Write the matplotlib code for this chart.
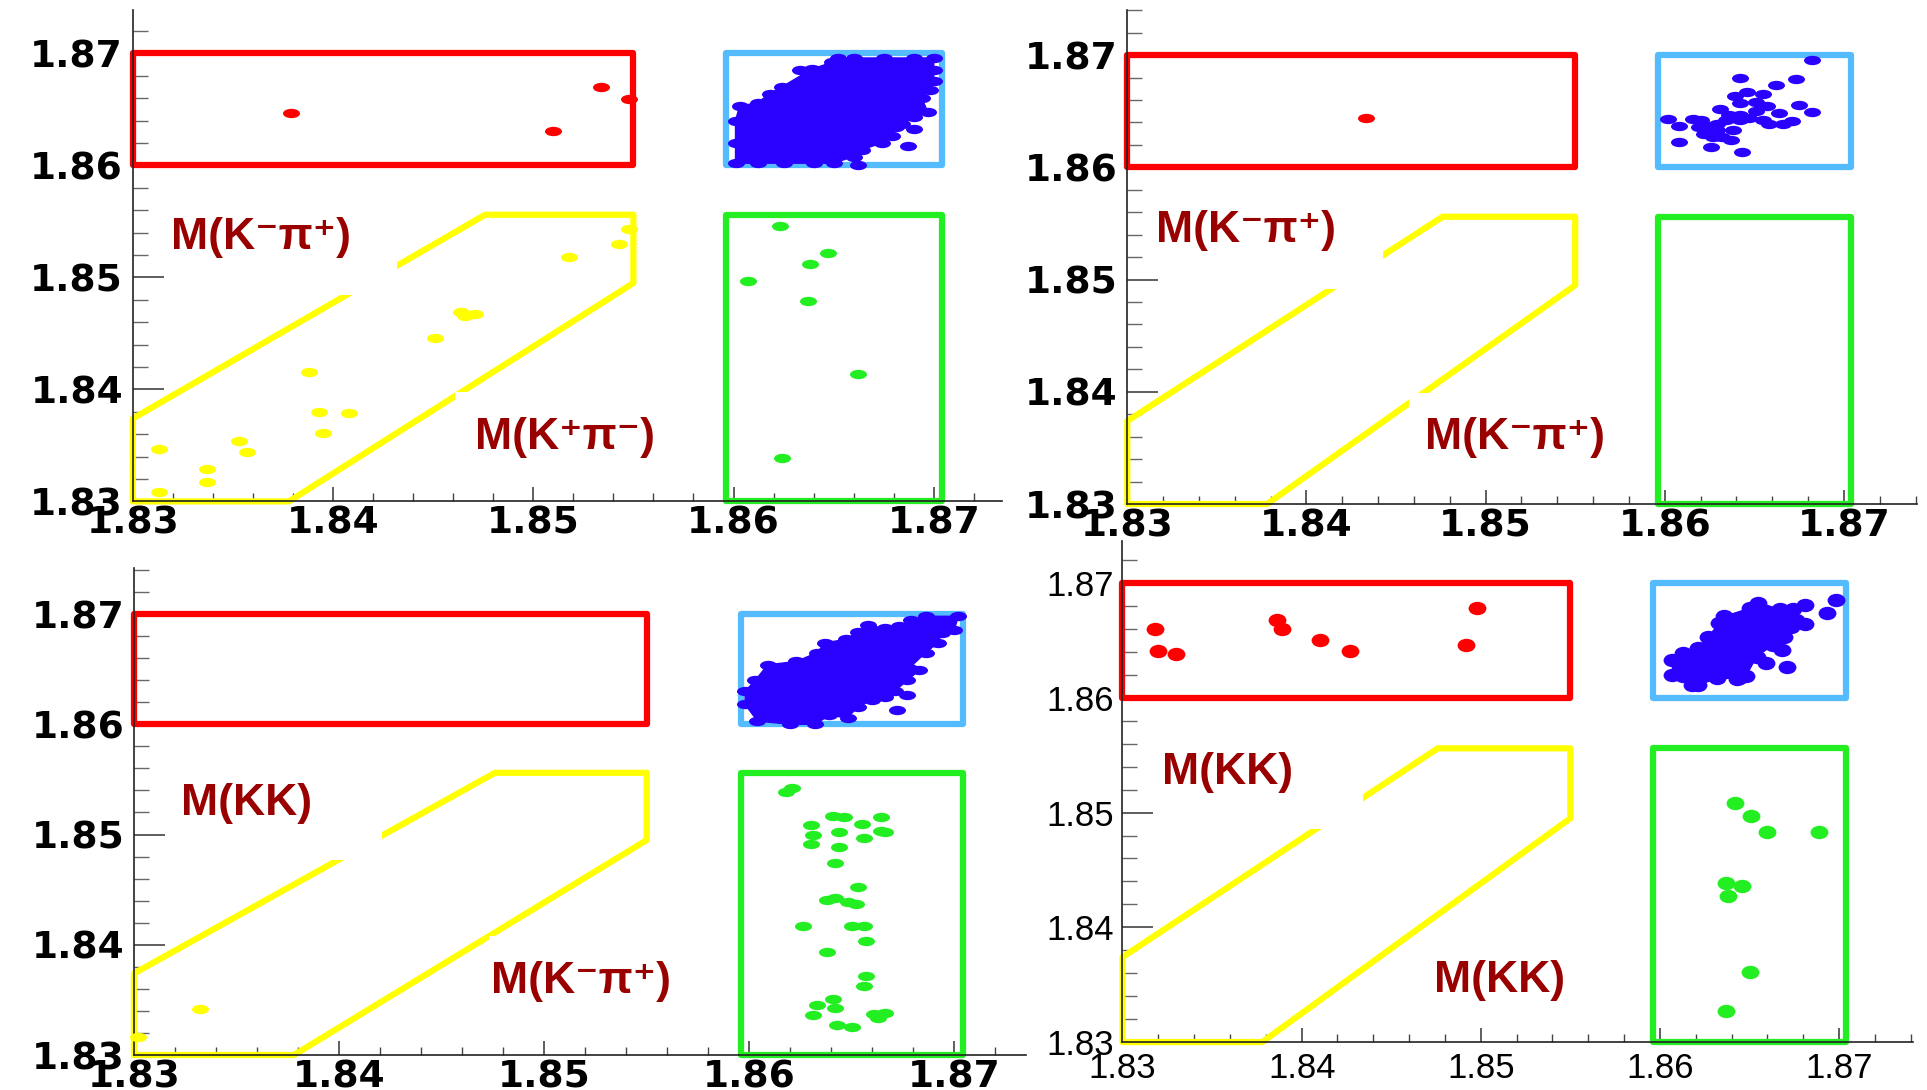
import numpy as np
import matplotlib.pyplot as plt
from matplotlib import font_manager
from matplotlib.patches import Polygon, Rectangle
from matplotlib.path import Path
from matplotlib.ticker import MultipleLocator, FormatStrFormatter

names = {f.name for f in font_manager.fontManager.ttflist}
narrow = 'Liberation Sans Narrow' if 'Liberation Sans Narrow' in names else 'Liberation Sans'

# signal / sideband regions (x0, y0, x1, y1)
red_box = [1.83, 1.86, 1.855, 1.87]
blue_box = [1.8596, 1.86, 1.8704, 1.87]
green_box = [1.8596, 1.83, 1.8704, 1.8556]
yellow_x = [1.83, 1.8378, 1.855, 1.855, 1.8476, 1.83]
yellow_y = [1.83, 1.83, 1.8495, 1.8556, 1.8556, 1.8374]

lab_kmpip = 'M(K\u207b\u03c0\u207a)'
lab_kppim = 'M(K\u207a\u03c0\u207b)'
lab_kk = 'M(KK)'

# top left
p1_red_x = [1.8379, 1.8534, 1.8510, 1.8548]
p1_red_y = [1.8647, 1.8670, 1.8631, 1.8659]
p1_yellow_x = [1.8313, 1.8313, 1.8337, 1.8337, 1.8353, 1.8357, 1.8388, 1.8393, 1.8408, 1.8395,
               1.8451, 1.8464, 1.8466, 1.8471, 1.8518, 1.8543, 1.8548]
p1_yellow_y = [1.8347, 1.8308, 1.8329, 1.8317, 1.8354, 1.8344, 1.8416, 1.8380, 1.8379, 1.8361,
               1.8446, 1.8469, 1.8466, 1.8467, 1.8518, 1.8530, 1.8543]
p1_green_x = [1.8623, 1.8647, 1.8638, 1.8607, 1.8637, 1.8662, 1.8624]
p1_green_y = [1.8546, 1.8522, 1.8512, 1.8497, 1.8479, 1.8414, 1.8339]
p1_blob_x = [1.8601, 1.8601, 1.8601, 1.8603, 1.8612, 1.8618, 1.8624, 1.8639, 1.8649, 1.8652,
             1.8660, 1.8675, 1.8690, 1.8700, 1.8700, 1.8700, 1.8698, 1.8694, 1.8697, 1.8690,
             1.8684, 1.8681, 1.8679, 1.8674, 1.8664, 1.8660, 1.8650, 1.8640, 1.8625, 1.8612]
p1_blob_y = [1.8602, 1.8620, 1.8640, 1.8653, 1.8656, 1.8664, 1.8670, 1.8686, 1.8692, 1.8696,
             1.8696, 1.8696, 1.8696, 1.8696, 1.8685, 1.8675, 1.8667, 1.8660, 1.8648, 1.8643,
             1.8637, 1.8634, 1.8626, 1.8620, 1.8614, 1.8608, 1.8602, 1.8602, 1.8602, 1.8602]
p1_blue_x = [1.8633, 1.8690, 1.8687, 1.8662]
p1_blue_y = [1.8685, 1.8633, 1.8617, 1.8600]

# top right
p2_red_x = [1.8433]
p2_red_y = [1.8644]
p2_blue_x = [1.8682, 1.8642, 1.8673, 1.8662, 1.8646, 1.8655, 1.8639, 1.8642, 1.8651, 1.8657,
             1.8675, 1.8682, 1.8631, 1.8651, 1.8664, 1.8602, 1.8616, 1.8620, 1.8608, 1.8625,
             1.8634, 1.8642, 1.8647, 1.8655, 1.8658, 1.8666, 1.8671, 1.8629, 1.8622, 1.8638,
             1.8627, 1.8632, 1.8637, 1.8608, 1.8626, 1.8643, 1.8642, 1.8636, 1.8619, 1.8629]
p2_blue_y = [1.8696, 1.8680, 1.8679, 1.8673, 1.8667, 1.8665, 1.8664, 1.8657, 1.8658, 1.8655,
             1.8656, 1.8649, 1.8652, 1.8650, 1.8648, 1.8643, 1.8643, 1.8642, 1.8637, 1.8637,
             1.8642, 1.8642, 1.8644, 1.8642, 1.8639, 1.8639, 1.8641, 1.8633, 1.8630, 1.8633,
             1.8627, 1.8627, 1.8624, 1.8623, 1.8618, 1.8614, 1.8647, 1.8647, 1.8636, 1.8639]

# bottom left
p3_yellow_x = [1.8332, 1.8302]
p3_yellow_y = [1.8342, 1.8316]
p3_green_x = [1.8621, 1.8618, 1.8641, 1.8646, 1.8664, 1.8630, 1.8655, 1.8631, 1.8644, 1.8664,
              1.8666, 1.8656, 1.8630, 1.8644, 1.8642, 1.8653, 1.8638, 1.8642, 1.8648, 1.8652,
              1.8626, 1.8650, 1.8656, 1.8657, 1.8638, 1.8657, 1.8656, 1.8641, 1.8633, 1.8642,
              1.8631, 1.8661, 1.8666, 1.8663, 1.8643, 1.8650]
p3_green_y = [1.8542, 1.8539, 1.8517, 1.8516, 1.8516, 1.8509, 1.8510, 1.8500, 1.8502, 1.8503,
              1.8502, 1.8497, 1.8491, 1.8489, 1.8474, 1.8452, 1.8441, 1.8442, 1.8439, 1.8437,
              1.8417, 1.8417, 1.8417, 1.8403, 1.8393, 1.8372, 1.8363, 1.8351, 1.8345, 1.8343,
              1.8336, 1.8337, 1.8338, 1.8334, 1.8327, 1.8325]
p3_blob_x = [1.8603, 1.8609, 1.8623, 1.8633, 1.8637, 1.8647, 1.8653, 1.8658, 1.8666, 1.8673,
             1.8679, 1.8686, 1.8702, 1.8700, 1.8694, 1.8692, 1.8686, 1.8678, 1.8683, 1.8677,
             1.8671, 1.8666, 1.8660, 1.8653, 1.8648, 1.8639, 1.8632, 1.8620, 1.8604, 1.8598,
             1.8598]
p3_blob_y = [1.8640, 1.8654, 1.8657, 1.8665, 1.8674, 1.8677, 1.8684, 1.8690, 1.8687, 1.8689,
             1.8695, 1.8698, 1.8698, 1.8686, 1.8683, 1.8674, 1.8665, 1.8651, 1.8649, 1.8640,
             1.8630, 1.8625, 1.8622, 1.8616, 1.8606, 1.8608, 1.8600, 1.8600, 1.8603, 1.8618,
             1.8630]
p3_blue_x = [1.8672, 1.8677]
p3_blue_y = [1.8613, 1.8627]

# bottom right
p4_red_x = [1.8318, 1.8320, 1.8330, 1.8386, 1.8389, 1.8410, 1.8427, 1.8492, 1.8498]
p4_red_y = [1.8660, 1.8641, 1.8638, 1.8668, 1.8660, 1.8650, 1.8641, 1.8646, 1.8678]
p4_green_x = [1.8642, 1.8651, 1.8660, 1.8689, 1.8637, 1.8646, 1.8638, 1.8650, 1.8637]
p4_green_y = [1.8508, 1.8497, 1.8483, 1.8483, 1.8439, 1.8436, 1.8427, 1.8361, 1.8327]
p4_blob_x = [1.8607, 1.8613, 1.8621, 1.8627, 1.8633, 1.8636, 1.8650, 1.8655, 1.8667, 1.8674,
             1.8676, 1.8673, 1.8669, 1.8663, 1.8654, 1.8648, 1.8644, 1.8632, 1.8621, 1.8613,
             1.8607]
p4_blob_y = [1.8633, 1.8639, 1.8643, 1.8653, 1.8665, 1.8671, 1.8678, 1.8683, 1.8677, 1.8677,
             1.8668, 1.8662, 1.8653, 1.8646, 1.8636, 1.8619, 1.8617, 1.8617, 1.8611, 1.8619,
             1.8620]
p4_blue_x = [1.8698, 1.8693, 1.8681, 1.8681, 1.8671, 1.8659, 1.8668, 1.8643, 1.8618]
p4_blue_y = [1.8685, 1.8674, 1.8681, 1.8664, 1.8627, 1.8630, 1.8642, 1.8616, 1.8611]

RED = '#ff0000'
SKY = '#55bbff'
YEL = '#ffff00'
GRN = '#22ee22'
BLU = '#2a00ff'
TXT = '#990000'

circ = Path.unit_circle()
flat = Path(circ.vertices * [1.0, 0.55], circ.codes)
rounder = Path(circ.vertices * [1.0, 0.75], circ.codes)

fig = plt.figure(figsize=(19.27, 10.90), dpi=100)


def box(ax, b, color):
    ax.add_patch(Rectangle((b[0], b[1]), b[2] - b[0], b[3] - b[1], fill=False, ec=color, lw=4.5,
                           joinstyle='round', clip_on=False, zorder=2))


def draw_panel(rect, xmax, ymax, points, blob, labels, masks, bold=True, marker=flat, msize=150):
    ax = fig.add_axes(rect)
    ax.set_xlim(1.83, xmax)
    ax.set_ylim(1.83, ymax)
    ax.spines['top'].set_visible(False)
    ax.spines['right'].set_visible(False)
    for s in ['left', 'bottom']:
        ax.spines[s].set_linewidth(1.2)
        ax.spines[s].set_color('#222222')
    for axis in [ax.xaxis, ax.yaxis]:
        axis.set_major_locator(MultipleLocator(0.01))
        axis.set_minor_locator(MultipleLocator(0.002))
        axis.set_major_formatter(FormatStrFormatter('%.2f'))
    ax.tick_params(axis='x', which='major', direction='in', length=10, width=1.1, color='#333333',
                   pad=3 if bold else 7)
    ax.tick_params(axis='x', which='minor', direction='in', length=5.5, width=1.0, color='#444444')
    ax.tick_params(axis='y', which='major', direction='in', length=22, width=1.1, color='#333333',
                   pad=7 if bold else 6)
    ax.tick_params(axis='y', which='minor', direction='in', length=11, width=1.0, color='#666666')
    if bold:
        plt.setp(ax.get_xticklabels() + ax.get_yticklabels(), family='DejaVu Sans',
                 fontweight='bold', fontsize=27)
    else:
        plt.setp(ax.get_xticklabels() + ax.get_yticklabels(), family=[narrow, 'DejaVu Sans'],
                 fontweight='normal', fontsize=25)

    box(ax, red_box, RED)
    box(ax, blue_box, SKY)
    box(ax, green_box, GRN)
    ax.add_patch(Polygon(np.column_stack([yellow_x, yellow_y]), closed=True, fill=False, ec=YEL,
                         lw=4.5, joinstyle='round', clip_on=False, zorder=2))
    for m in masks:
        ax.add_patch(Rectangle((m[0], m[1]), m[2] - m[0], m[3] - m[1], fc='white', ec='none',
                               zorder=2.5))

    if blob is not None:
        ax.add_patch(Polygon(np.column_stack(blob), closed=True, fc=BLU, ec=BLU, lw=1,
                             clip_on=False, zorder=3))
        ax.scatter(blob[0], blob[1], s=msize, marker=marker, color=BLU, linewidths=0,
                   clip_on=False, zorder=3)
    for x, y, c in points:
        ax.scatter(x, y, s=msize, marker=marker, color=c, linewidths=0, clip_on=False, zorder=3)

    for txt, x, y in labels:
        ax.text(x, y, txt, ha='left', va='center', color=TXT, fontsize=32, fontweight='bold',
                family=[narrow, 'DejaVu Sans'], zorder=5)
    return ax


draw_panel([0.0689, 0.540, 0.451, 0.451], 1.8734, 1.8739,
           [(p1_red_x, p1_red_y, RED), (p1_yellow_x, p1_yellow_y, YEL),
            (p1_green_x, p1_green_y, GRN), (p1_blue_x, p1_blue_y, BLU)],
           (p1_blob_x, p1_blob_y),
           [(lab_kmpip, 1.8319, 1.8536), (lab_kppim, 1.8471, 1.8357)],
           [(1.838, 1.8484, 1.8432, 1.8525), (1.8461, 1.834, 1.853, 1.8398)])

draw_panel([0.585, 0.5376, 0.41, 0.453], 1.8741, 1.8740,
           [(p2_red_x, p2_red_y, RED), (p2_blue_x, p2_blue_y, BLU)],
           None,
           [(lab_kmpip, 1.8316, 1.8544), (lab_kmpip, 1.8466, 1.8359)],
           [(1.838, 1.8492, 1.8443, 1.853), (1.8457, 1.834, 1.853, 1.8399)])

draw_panel([0.0695, 0.0321, 0.463, 0.447], 1.8735, 1.8742,
           [(p3_yellow_x, p3_yellow_y, YEL), (p3_green_x, p3_green_y, GRN),
            (p3_blue_x, p3_blue_y, BLU)],
           (p3_blob_x, p3_blob_y),
           [(lab_kk, 1.8323, 1.8528), (lab_kmpip, 1.8474, 1.8367)],
           [(1.836, 1.8477, 1.8421, 1.8515), (1.8473, 1.834, 1.853, 1.8408)])

draw_panel([0.5825, 0.044, 0.41, 0.46], 1.8741, 1.8737,
           [(p4_red_x, p4_red_y, RED), (p4_green_x, p4_green_y, GRN),
            (p4_blue_x, p4_blue_y, BLU)],
           (p4_blob_x, p4_blob_y),
           [(lab_kk, 1.8322, 1.8535), (lab_kk, 1.8474, 1.8354)],
           [(1.838, 1.8486, 1.8434, 1.852)],
           bold=False, marker=rounder, msize=165)

fig.savefig('out.png', dpi=100)
